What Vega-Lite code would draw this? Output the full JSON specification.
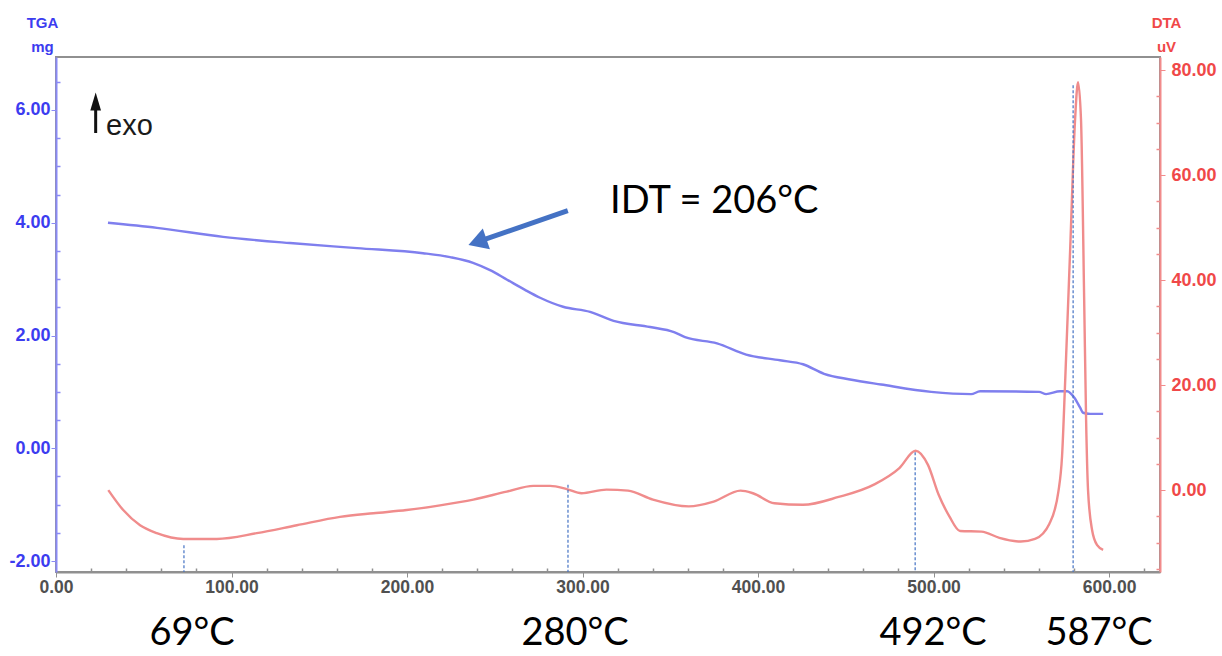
{
  "$schema": "https://vega.github.io/schema/vega-lite/v6.json",
  "width": 1104,
  "height": 515,
  "autosize": {"type": "none"},
  "padding": {"left": 56, "top": 57, "right": 62, "bottom": 84},
  "background": "white",
  "config": {
    "view": {"stroke": "#909090", "strokeWidth": 2},
    "axis": {"grid": false, "labelFont": "Liberation Sans", "titleFont": "Liberation Sans", "labelFontWeight": "bold", "titleFontWeight": "bold", "zindex": 1}
  },
  "datasets": {
    "tga": [
      {"T": 29.6, "mg": 4.00}, {"T": 57.5, "mg": 3.91}, {"T": 95.2, "mg": 3.75}, {"T": 133.3, "mg": 3.64},
      {"T": 171.5, "mg": 3.55}, {"T": 209.1, "mg": 3.46}, {"T": 224.5, "mg": 3.39}, {"T": 237.6, "mg": 3.29},
      {"T": 247.3, "mg": 3.16}, {"T": 257.0, "mg": 2.99}, {"T": 267.2, "mg": 2.81}, {"T": 275.8, "mg": 2.67},
      {"T": 288.9, "mg": 2.51}, {"T": 304.3, "mg": 2.42}, {"T": 317.7, "mg": 2.26}, {"T": 338.5, "mg": 2.15},
      {"T": 352.1, "mg": 2.06}, {"T": 358.4, "mg": 1.97}, {"T": 376.6, "mg": 1.86}, {"T": 393.2, "mg": 1.66},
      {"T": 412.5, "mg": 1.56}, {"T": 425.6, "mg": 1.49}, {"T": 437.6, "mg": 1.32}, {"T": 452.4, "mg": 1.22},
      {"T": 470.1, "mg": 1.13}, {"T": 498.6, "mg": 1.0}, {"T": 521.4, "mg": 0.96}, {"T": 526.5, "mg": 1.01},
      {"T": 560.1, "mg": 1.0}, {"T": 564.1, "mg": 0.96}, {"T": 572.1, "mg": 1.01}, {"T": 576.1, "mg": 1.01},
      {"T": 580.1, "mg": 0.9}, {"T": 583.5, "mg": 0.72}, {"T": 585.2, "mg": 0.63}, {"T": 589.2, "mg": 0.61},
      {"T": 596.6, "mg": 0.61}
    ],
    "dta": [
      {"T": 29.8, "uV": 0.0}, {"T": 38.3, "uV": -3.8}, {"T": 47.9, "uV": -6.7}, {"T": 57.4, "uV": -8.2},
      {"T": 72.5, "uV": -9.3}, {"T": 91.6, "uV": -9.3}, {"T": 114.4, "uV": -8.2}, {"T": 137.2, "uV": -6.7},
      {"T": 161.8, "uV": -5.1}, {"T": 180.8, "uV": -4.4}, {"T": 199.8, "uV": -3.8}, {"T": 218.8, "uV": -2.9},
      {"T": 237.8, "uV": -1.8}, {"T": 256.8, "uV": -0.3}, {"T": 272.0, "uV": 0.8}, {"T": 281.5, "uV": 0.8},
      {"T": 291.0, "uV": 0.2}, {"T": 299.4, "uV": -0.6}, {"T": 313.6, "uV": 0.1}, {"T": 325.9, "uV": -0.1},
      {"T": 340.1, "uV": -1.8}, {"T": 360.5, "uV": -3.1}, {"T": 374.7, "uV": -2.2}, {"T": 390.0, "uV": -0.1},
      {"T": 397.1, "uV": -0.6}, {"T": 409.3, "uV": -2.5}, {"T": 425.6, "uV": -2.8}, {"T": 445.9, "uV": -1.3},
      {"T": 466.3, "uV": 1.1}, {"T": 480.5, "uV": 4.2}, {"T": 489.7, "uV": 7.5}, {"T": 496.8, "uV": 4.8},
      {"T": 502.9, "uV": -0.9}, {"T": 509.0, "uV": -5.0}, {"T": 515.1, "uV": -7.8}, {"T": 527.3, "uV": -7.9},
      {"T": 537.5, "uV": -9.1}, {"T": 549.7, "uV": -9.8}, {"T": 557.8, "uV": -9.3}, {"T": 566.0, "uV": -6.4},
      {"T": 571.1, "uV": -0.3}, {"T": 573.2, "uV": 6.5}, {"T": 575.0, "uV": 21.0}, {"T": 577.8, "uV": 45.7},
      {"T": 580.6, "uV": 70.5}, {"T": 582.3, "uV": 77.7}, {"T": 584.0, "uV": 70.5}, {"T": 585.8, "uV": 36.2},
      {"T": 586.9, "uV": 13.3}, {"T": 588.0, "uV": 0.0}, {"T": 590.3, "uV": -7.6}, {"T": 593.2, "uV": -10.5},
      {"T": 596.6, "uV": -11.4}
    ],
    "peaks": [
      {"T": 72.9, "top": -10.5, "label": "69°C", "labelT": 77.5},
      {"T": 291.7, "top": 1.0, "label": "280°C", "labelT": 295.7},
      {"T": 489.5, "top": 7.2, "label": "492°C", "labelT": 499.7},
      {"T": 579.5, "top": 77.1, "label": "587°C", "labelT": 594.3}
    ]
  },
  "layer": [
    {
      "layer": [
        {
          "data": {"name": "tga"},
          "mark": {"type": "line", "color": "#7f7fee", "strokeWidth": 2.4, "interpolate": "monotone"},
          "encoding": {
            "x": {"field": "T", "type": "quantitative", "scale": {"domain": [0, 629], "nice": false, "zero": false},
              "axis": {"orient": "bottom", "title": null, "values": [0, 100, 200, 300, 400, 500, 600], "format": ".2f",
                "labelOverlap": false, "labelBound": false, "labelFlush": false,
                "labelColor": "#505050", "labelFontSize": 17.5, "domainColor": "#909090", "domainWidth": 2, "tickColor": "#909090", "tickSize": 5, "labelPadding": 1}},
            "y": {"field": "mg", "type": "quantitative", "scale": {"domain": [-2.195, 6.94], "nice": false, "zero": false},
              "axis": {"orient": "left", "title": ["TGA", "mg"], "titleAngle": 0, "titleAlign": "center", "titleBaseline": "alphabetic", "titleX": -14, "titleY": -30, "titleLineHeight": 24, "titleFontSize": 15, "titleColor": "#3c3cf0",
                "values": [-2, 0, 2, 4, 6], "labelExpr": "replace(format(datum.value, '.2f'), '\u2212', '-')",
                "labelOverlap": false, "labelBound": false, "labelFlush": false,
                "labelColor": "#3c3cf0", "labelFontSize": 18, "domainColor": "#8a8af5", "domainWidth": 2, "tickColor": "#8a8af5", "tickSize": 5, "labelPadding": 1}}
          }
        },
        {
          "data": {"name": "peaks"},
          "mark": {"type": "text", "font": "Lato", "fontSize": 38, "color": "#000000", "align": "center", "baseline": "middle"},
          "encoding": {
            "x": {"field": "labelT", "type": "quantitative", "scale": {"domain": [0, 629], "nice": false, "zero": false}},
            "y": {"datum": -3.3, "type": "quantitative", "scale": {"domain": [-2.195, 6.94], "nice": false, "zero": false}},
            "text": {"field": "label"}
          }
        },
        {
          "data": {"values": [{"text": "IDT = 206°C"}]},
          "mark": {"type": "text", "font": "Lato", "fontSize": 38, "color": "#000000", "align": "left", "baseline": "alphabetic"},
          "encoding": {
            "x": {"datum": 315.7, "type": "quantitative", "scale": {"domain": [0, 629], "nice": false, "zero": false}},
            "y": {"datum": 4.17, "type": "quantitative", "scale": {"domain": [-2.195, 6.94], "nice": false, "zero": false}},
            "text": {"field": "text"}
          }
        },
        {
          "data": {"values": [{"T1": 291.6, "v1": 4.215, "T2": 240.1, "v2": 3.661}]},
          "mark": {"type": "rule", "color": "#4472c4", "strokeWidth": 5},
          "encoding": {
            "x": {"field": "T1", "type": "quantitative", "scale": {"domain": [0, 629], "nice": false, "zero": false}},
            "y": {"field": "v1", "type": "quantitative", "scale": {"domain": [-2.195, 6.94], "nice": false, "zero": false}},
            "x2": {"field": "T2"},
            "y2": {"field": "v2"}
          }
        },
        {
          "data": {"values": [{"T": 240.1, "v": 3.661}]},
          "mark": {"type": "point", "shape": "triangle-up", "filled": true, "color": "#4472c4", "opacity": 1, "size": 480, "angle": 251},
          "encoding": {
            "x": {"field": "T", "type": "quantitative", "scale": {"domain": [0, 629], "nice": false, "zero": false}},
            "y": {"field": "v", "type": "quantitative", "scale": {"domain": [-2.195, 6.94], "nice": false, "zero": false}}
          }
        },
        {
          "data": {"values": [{"T": 22.6, "v1": 5.592, "v2": 6.16}]},
          "mark": {"type": "rule", "color": "#111111", "strokeWidth": 3},
          "encoding": {
            "x": {"field": "T", "type": "quantitative", "scale": {"domain": [0, 629], "nice": false, "zero": false}},
            "y": {"field": "v1", "type": "quantitative", "scale": {"domain": [-2.195, 6.94], "nice": false, "zero": false}},
            "y2": {"field": "v2"}
          }
        },
        {
          "data": {"values": [{"T": 22.6, "v": 6.151}]},
          "mark": {"type": "point", "shape": "M0,-1L-0.6,1L0.6,1Z", "filled": true, "color": "#111111", "opacity": 1, "size": 320},
          "encoding": {
            "x": {"field": "T", "type": "quantitative", "scale": {"domain": [0, 629], "nice": false, "zero": false}},
            "y": {"field": "v", "type": "quantitative", "scale": {"domain": [-2.195, 6.94], "nice": false, "zero": false}}
          }
        },
        {
          "data": {"values": [{"text": "exo"}]},
          "mark": {"type": "text", "font": "Liberation Sans", "fontSize": 29, "color": "#1a1a1a", "align": "left", "baseline": "alphabetic"},
          "encoding": {
            "x": {"datum": 28.5, "type": "quantitative", "scale": {"domain": [0, 629], "nice": false, "zero": false}},
            "y": {"datum": 5.56, "type": "quantitative", "scale": {"domain": [-2.195, 6.94], "nice": false, "zero": false}},
            "text": {"field": "text"}
          }
        }
      ]
    },
    {
      "layer": [
        {
          "data": {"name": "dta"},
          "mark": {"type": "line", "color": "#f08c8c", "strokeWidth": 2.4, "interpolate": "monotone"},
          "encoding": {
            "x": {"field": "T", "type": "quantitative", "scale": {"domain": [0, 629], "nice": false, "zero": false}, "axis": null},
            "y": {"field": "uV", "type": "quantitative", "scale": {"domain": [-15.6, 82.5], "nice": false, "zero": false},
              "axis": {"orient": "right", "title": ["DTA", "uV"], "titleAngle": 0, "titleAlign": "center", "titleBaseline": "alphabetic", "titleX": 6, "titleY": -30, "titleLineHeight": 24, "titleFontSize": 15, "titleColor": "#f04848",
                "values": [0, 20, 40, 60, 80], "format": ".2f",
                "labelOverlap": false, "labelBound": false, "labelFlush": false,
                "labelColor": "#f04848", "labelFontSize": 18, "domainColor": "#f28b8b", "domainWidth": 2, "tickColor": "#f28b8b", "tickSize": 5, "labelPadding": 6}}
          }
        },
        {
          "data": {"name": "peaks"},
          "mark": {"type": "rule", "color": "#4472c4", "strokeWidth": 1.2, "strokeDash": [3, 2]},
          "encoding": {
            "x": {"field": "T", "type": "quantitative", "scale": {"domain": [0, 629], "nice": false, "zero": false}, "axis": null},
            "y": {"field": "top", "type": "quantitative", "scale": {"domain": [-15.6, 82.5], "nice": false, "zero": false}},
            "y2": {"datum": -15.6}
          }
        }
      ]
    },
    {
      "data": {"values": [{"T": 100, "mg": 0}]},
      "mark": {"type": "point", "opacity": 0},
      "encoding": {
        "x": {"field": "T", "type": "quantitative", "scale": {"domain": [0, 629], "nice": false, "zero": false},
          "axis": {"orient": "bottom", "title": null, "labels": false, "domain": false, "values": [20,40,60,80,120,140,160,180,220,240,260,280,320,340,360,380,420,440,460,480,520,540,560,580,620], "tickSize": -4, "tickColor": "#909090", "tickWidth": 1.5}},
        "y": {"field": "mg", "type": "quantitative", "scale": {"domain": [-2.195, 6.94], "nice": false, "zero": false},
          "axis": {"orient": "left", "title": null, "labels": false, "domain": false, "values": [-1.5,-1,-0.5,0.5,1,1.5,2.5,3,3.5,4.5,5,5.5,6.5], "tickSize": -4, "tickColor": "#8a8af5", "tickWidth": 1.5}}
      }
    },
    {
      "data": {"values": [{"T": 100, "uV": 0}]},
      "mark": {"type": "point", "opacity": 0},
      "encoding": {
        "x": {"field": "T", "type": "quantitative", "scale": {"domain": [0, 629], "nice": false, "zero": false}, "axis": null},
        "y": {"field": "uV", "type": "quantitative", "scale": {"domain": [-15.6, 82.5], "nice": false, "zero": false},
          "axis": {"orient": "right", "title": null, "labels": false, "domain": false, "values": [-15,-10,-5,5,10,15,25,30,35,45,50,55,65,70,75], "tickSize": -4, "tickColor": "#f28b8b", "tickWidth": 1.5}}
      }
    }
  ],
  "resolve": {"scale": {"y": "independent"}, "axis": {"x": "independent"}}
}
